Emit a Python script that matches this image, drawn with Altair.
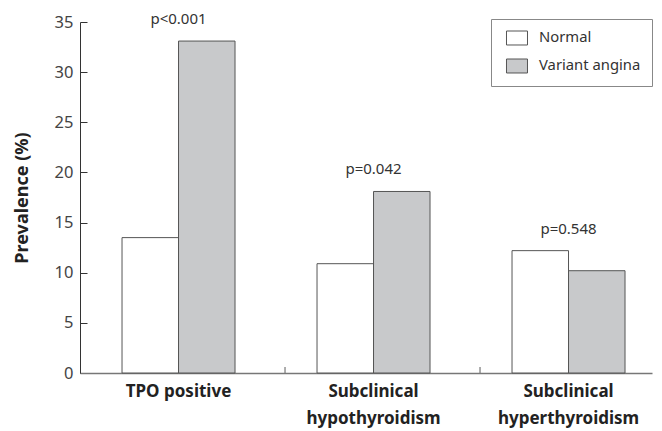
import altair as alt
import pandas as pd

categories = ["TPO positive", "Subclinical\nhypothyroidism", "Subclinical\nhyperthyroidism"]
groups = ["Normal", "Variant angina"]
normal = [13.5, 10.9, 12.2]
variant = [33.1, 18.1, 10.2]
p_labels = ["p<0.001", "p=0.042", "p=0.548"]
y_ticks = [0, 5, 10, 15, 20, 25, 30, 35]

rows = []
for c, n, v in zip(categories, normal, variant):
    rows.append({"cat": c, "group": groups[0], "value": n})
    rows.append({"cat": c, "group": groups[1], "value": v})
bars_df = pd.DataFrame(rows)
text_df = pd.DataFrame({"cat": categories, "p": p_labels,
                        "top": [max(a, b) for a, b in zip(normal, variant)]})
tick_df = pd.DataFrame({"cat": categories[:-1]})

FONT = "Noto Sans"
W, H = 572, 351

x_scale = alt.Scale(domain=categories, paddingInner=0.4205, paddingOuter=0.1769, align=0.609)

bars = alt.Chart(bars_df).mark_bar(stroke="#555555", strokeWidth=1).encode(
    x=alt.X("cat:N", sort=categories, scale=x_scale, title=None,
            axis=alt.Axis(labelExpr="split(datum.label, '\\n')", labelFont=FONT,
                          labelFontSize=17, labelFontWeight="bold", labelColor="#222222",
                          labelLineHeight=27, labelPadding=10, labelAngle=0, ticks=False,
                          domainColor="#777777", domainWidth=1.5, labelBaseline="top")),
    xOffset=alt.XOffset("group:N", sort=groups, scale=alt.Scale(paddingInner=0, paddingOuter=0)),
    y=alt.Y("value:Q", scale=alt.Scale(domain=[0, 35], nice=False),
            title="Prevalence (%)",
            axis=alt.Axis(values=y_ticks, ticks=False, grid=True, gridDash=[7, 2000],
                          gridColor="#333333", gridOpacity=1, gridWidth=1,
                          labelFont=FONT, labelFontSize=16.5, labelColor="#444444",
                          labelPadding=7, titleFont=FONT, titleFontSize=18,
                          titleFontWeight="bold", titleColor="#222222", titlePadding=23,
                          domainColor="#333333", domainWidth=1)),
    fill=alt.Fill("group:N", sort=groups,
                  scale=alt.Scale(domain=groups, range=["#ffffff", "#c8c9cb"]),
                  legend=alt.Legend(title=None, orient="none", legendX=411, legendY=-3,
                                    symbolType="M-0.467,-0.933H2.333V0.933H-0.467Z",
                                    symbolSize=225,
                                    symbolStrokeColor="#555555", symbolStrokeWidth=1,
                                    labelFont=FONT, labelFontSize=14.8, labelColor="#333333",
                                    strokeColor="#888888", fillColor="#ffffff",
                                    padding=11, rowPadding=10, labelOffset=21)),
)

ticks = alt.Chart(tick_df).mark_rule(color="#777777", strokeWidth=1.2, xOffset=50).encode(
    x=alt.X("cat:N", sort=categories, bandPosition=1),
    y=alt.value(H),
    y2=alt.value(H - 6),
)

texts = alt.Chart(text_df).mark_text(dy=-22, font=FONT, fontSize=15, color="#333333",
                                     baseline="middle").encode(
    x=alt.X("cat:N", sort=categories),
    y=alt.Y("top:Q"),
    text="p:N",
)

chart = alt.layer(bars, ticks, texts).properties(
    width=W, height=H,
    padding={"left": 5, "top": 4, "right": 0, "bottom": 6},
).configure_view(stroke=None)

chart.save("out.html", embed_options={"renderer": "svg", "actions": False})
